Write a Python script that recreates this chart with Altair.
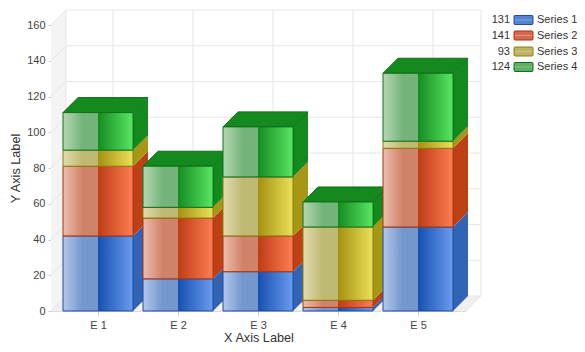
import altair as alt
import pandas as pd

categories = ["E 1", "E 2", "E 3", "E 4", "E 5"]
series_names = ["Series 1", "Series 2", "Series 3", "Series 4"]
series_1 = [42, 18, 22, 2, 47]
series_2 = [39, 34, 20, 4, 44]
series_3 = [9, 6, 33, 41, 4]
series_4 = [21, 23, 28, 14, 38]
totals = [131, 141, 93, 124]
y_ticks = [0, 20, 40, 60, 80, 100, 120, 140, 160]
all_series = [series_1, series_2, series_3, series_4]

# geometry in data units (80 px per category, 1.7875 px per y unit)
W, H = 415, 286
XMIN, XMAX = 1 - 47 / 80, 1 - 47 / 80 + W / 80
DX, DY = 15 / 80, 15 / 1.7875
HALF = 35 / 80
FONT = "Liberation Sans"

side_cols = ["#3263b5", "#be4015", "#a69815", "#148a1e"]
line_cols = ["#1f4b9e", "#a83410", "#8a7c0c", "#0e6f18"]
grads = [
    [("#b4c8e8", 0), ("#7497cd", .28), ("#7497cd", .5), ("#1650b0", .5), ("#6a9cf0", 1)],
    [("#ecbcae", 0), ("#cf8469", .28), ("#cf8469", .5), ("#bd3c14", .5), ("#ff7d55", 1)],
    [("#e2dcae", 0), ("#bfb974", .28), ("#bfb974", .5), ("#a59114", .5), ("#ebe15a", 1)],
    [("#b6d8b6", 0), ("#74b47a", .28), ("#74b47a", .5), ("#148c1e", .5), ("#5ae664", 1)],
]


def grad(stops, x2=1, y2=0):
    return alt.Gradient(
        gradient="linear", x1=0, y1=0, x2=x2, y2=y2,
        stops=[alt.GradientStop(color=c, offset=o) for c, o in stops],
    )


rows = []
for ci, cat in enumerate(categories):
    base = 0
    for si, name in enumerate(series_names):
        v = all_series[si][ci]
        rows.append(dict(cat=cat, c=ci + 1, series=name, si=si, lo=base, hi=base + v))
        base += v
df = pd.DataFrame(rows)

xs = alt.Scale(domain=[XMIN, XMAX], nice=False, zero=False)
ys = alt.Scale(domain=[0, 160], nice=False)
x_axis = alt.Axis(
    values=[1, 2, 3, 4, 5], labelExpr="'E ' + datum.value", title="X Axis Label",
    grid=False, domainColor="#dcdcdc", tickColor="#cccccc", tickSize=4,
    labelFont=FONT, labelFontSize=11, labelColor="#444444", labelPadding=4, labelFlush=False,
    labelOverlap=False,
    titleFont=FONT, titleFontSize=12.7, titleFontWeight="normal", titleColor="#333333",
    titlePadding=1)
y_axis = alt.Axis(
    values=y_ticks, title="Y Axis Label", grid=False, domainColor="#dcdcdc",
    tickColor="#cccccc", tickSize=3, labelOverlap=False,
    labelFont=FONT, labelFontSize=11, labelColor="#444444", labelPadding=3,
    titleFont=FONT, titleFontSize=12.7, titleFontWeight="normal", titleColor="#333333",
    titlePadding=4)
X = lambda f: alt.X(f, type="quantitative", scale=xs, axis=x_axis)
Y = lambda f: alt.Y(f, type="quantitative", scale=ys, axis=y_axis)
X2 = lambda f: alt.X2(field=f)
Y2 = lambda f: alt.Y2(field=f)

grid_col = "#e6e6e6"
layers = []

# walls
wall = pd.DataFrame({"x": [XMIN, XMIN + DX], "lo": [0, DY], "hi": [160, 160 + DY]})
layers.append(alt.Chart(wall).mark_area(color="#f4f4f4", orient="vertical").encode(
    x=X("x"), y=Y("lo"), y2=Y2("hi")))
floor = pd.DataFrame({"y": [0, DY], "x1": [XMIN, XMIN + DX], "x2": [XMAX, XMAX + DX]})
layers.append(alt.Chart(floor).mark_area(color="#f0f0f0", orient="horizontal").encode(
    y=Y("y"), x=X("x1"), x2=X2("x2")))

# grid
hgrid = pd.DataFrame({"v": y_ticks})
hgrid = hgrid.assign(b=hgrid.v + DY, x0=XMIN, x1=XMIN + DX, x2=XMAX + DX)
layers.append(alt.Chart(hgrid).mark_rule(color=grid_col).encode(
    x=X("x0"), x2=X2("x1"), y=Y("v"), y2=Y2("b")))
layers.append(alt.Chart(hgrid).mark_rule(color=grid_col).encode(
    x=X("x1"), x2=X2("x2"), y=Y("b")))
vgrid = pd.DataFrame({"c": [1, 2, 3, 4, 5]})
vgrid = vgrid.assign(x=vgrid.c + DX, lo=DY, hi=160 + DY, x0=vgrid.c, y0=0)
layers.append(alt.Chart(vgrid).mark_rule(color=grid_col).encode(
    x=X("x"), y=Y("lo"), y2=Y2("hi")))
layers.append(alt.Chart(vgrid).mark_rule(color=grid_col).encode(
    x=X("x0"), x2=X2("x"), y=Y("y0"), y2=Y2("lo")))
edges = pd.DataFrame({"x": [XMIN + DX, XMAX + DX], "lo": [DY, DY], "hi": [160 + DY, 160 + DY]})
layers.append(alt.Chart(edges).mark_rule(color=grid_col).encode(
    x=X("x"), y=Y("lo"), y2=Y2("hi")))
layers.append(alt.Chart(pd.DataFrame({"x": [XMAX], "x2": [XMAX + DX], "y": [0], "y2": [DY]})).mark_rule(color=grid_col).encode(
    x=X("x"), x2=X2("x2"), y=Y("y"), y2=Y2("y2")))

# side and top faces, back to front
color_enc = alt.Color("series:N", legend=None, scale=alt.Scale(domain=series_names, range=side_cols))
for ci in range(5):
    d = df[df.c == ci + 1]
    side = pd.concat([
        d.assign(x=d.c + HALF, ylo=d.lo, yhi=d.hi),
        d.assign(x=d.c + HALF + DX, ylo=d.lo + DY, yhi=d.hi + DY),
    ])
    layers.append(alt.Chart(side).mark_area(orient="vertical").encode(
        x=X("x"), y=Y("ylo"), y2=Y2("yhi"), color=color_enc, detail="series:N"))
    t = d[d.si == 3]
    top = pd.concat([
        t.assign(y=t.hi, x1=t.c - HALF, x2=t.c + HALF),
        t.assign(y=t.hi + DY, x1=t.c - HALF + DX, x2=t.c + HALF + DX),
    ])
    layers.append(alt.Chart(top).mark_area(orient="horizontal", strokeWidth=1, color=side_cols[3], stroke=line_cols[3]).encode(
        y=Y("y"), x=X("x1"), x2=X2("x2")))

# front faces
front = df.assign(x1=df.c - HALF, x2=df.c + HALF)
for si in range(4):
    d = front[front.si == si]
    layers.append(alt.Chart(d).mark_rect(fill=grad(grads[si]), stroke=line_cols[si], strokeWidth=1).encode(
        x=X("x1"), x2=X2("x2"), y=Y("lo"), y2=Y2("hi")))

# legend
leg = pd.DataFrame({"name": series_names, "total": totals, "row": [20, 35.5, 51.5, 67]})
leg["yv"] = (311 - leg.row) / 1.7875
leg["x_num"] = 1 + (510 - 98) / 80
leg["x0"] = 1 + (514 - 98) / 80
leg["x1"] = 1 + (533 - 98) / 80
leg["x_txt"] = 1 + (537 - 98) / 80
leg["y0"] = leg.yv - 4.5 / 1.7875
leg["y1"] = leg.yv + 4.5 / 1.7875
leg_grads = [
    ["#5582d2", "#82a5e1"], ["#d26950", "#e6967d"], ["#beb464", "#cdc382"], ["#5faf64", "#8cc88c"],
]
for si in range(4):
    d = leg[leg.name == series_names[si]]
    a, b = leg_grads[si]
    layers.append(alt.Chart(d).mark_rect(
        fill=grad([(a, 0), (a, .4), (b, .5), (a, .6), (a, 1)], x2=0, y2=1), stroke=line_cols[si], strokeWidth=1, cornerRadius=1).encode(
        x=X("x0"), x2=X2("x1"), y=Y("y0"), y2=Y2("y1")))
layers.append(alt.Chart(leg).mark_text(align="right", font=FONT, fontSize=11, color="#333333").encode(
    x=X("x_num"), y=Y("yv"), text="total:N"))
layers.append(alt.Chart(leg).mark_text(align="left", font=FONT, fontSize=11, color="#333333").encode(
    x=X("x_txt"), y=Y("yv"), text="name:N"))

chart = alt.layer(*layers).properties(
    width=W, height=H,
    padding={"left": 43, "top": 17, "right": 111, "bottom": 33},
    autosize=alt.AutoSizeParams(type="none"),
    background="white",
).configure_view(stroke=None)

chart.save("out.html", embed_options={"renderer": "svg", "actions": False})
